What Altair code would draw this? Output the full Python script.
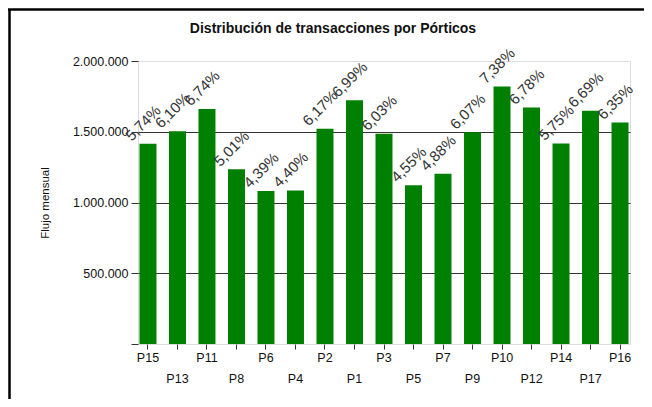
import altair as alt
import pandas as pd

porticos = ["P15", "P13", "P11", "P8", "P6", "P4", "P2", "P1", "P3",
            "P5", "P7", "P9", "P10", "P12", "P14", "P17", "P16"]
flujo = [1415000, 1504000, 1661000, 1235000, 1082000, 1085000, 1521000,
         1723000, 1486000, 1122000, 1203000, 1496000, 1819000, 1671000,
         1417000, 1649000, 1565000]
porcentaje = [0.0574, 0.0610, 0.0674, 0.0501, 0.0439, 0.0440, 0.0617,
              0.0699, 0.0603, 0.0455, 0.0488, 0.0607, 0.0738, 0.0678,
              0.0575, 0.0669, 0.0635]
y_ticks = [0, 500000, 1000000, 1500000, 2000000]
titulo = "Distribución de transacciones por Pórticos"
eje_y = "Flujo mensual"

df = pd.DataFrame({"portico": porticos, "flujo": flujo, "pct": porcentaje})

FONT = "Liberation Sans"
W, H = 492, 283
PAD_L, PAD_T, PAD_R, PAD_B = 130, 53, 14, 55

odd = [p for i, p in enumerate(porticos) if i % 2 == 1]
odd_list = "[" + ",".join("'" + p + "'" for p in odd) + "]"
label_expr = f"indexof({odd_list}, datum.value) >= 0 ? ['', datum.value] : datum.value"

x_enc = alt.X(
    "portico:N",
    sort=porticos,
    scale=alt.Scale(paddingInner=0.424, paddingOuter=0.05),
    axis=alt.Axis(
        title=None, labelAngle=0, domain=False, tickSize=5, tickColor="#333333",
        labelPadding=2, labelFontSize=12.5, labelFont=FONT, labelColor="#111111",
        labelLineHeight=21, labelExpr=label_expr,
    ),
)

y_enc = alt.Y(
    "flujo:Q",
    scale=alt.Scale(domain=[0, 2000000], nice=False),
    axis=alt.Axis(
        title=eje_y, values=y_ticks, format=",d", domain=False,
        labelExpr="datum.value == 0 ? '' : datum.label",
        tickSize=7, tickColor="#333333", labelPadding=3,
        labelFontSize=12.5, labelFont=FONT, labelColor="#111111",
        grid=True, gridColor="#333333", gridWidth=1,
        gridOpacity=alt.condition("datum.value == 0 || datum.value == 2000000",
                                  alt.value(0), alt.value(1)),
        titleFont=FONT, titleFontSize=11.5, titleFontWeight="normal",
        titleColor="#111111", titleX=-93, titleY=H / 2, titleAngle=270,
        titleAlign="center", titleBaseline="middle",
    ),
)

bars = alt.Chart(df).mark_bar(color="#008000").encode(x=x_enc, y=y_enc)

labels = alt.Chart(df).mark_text(
    angle=315, align="left", baseline="alphabetic", dx=-10, dy=-13,
    fontSize=15, font=FONT, color="#333333",
).encode(
    x=alt.X("portico:N", sort=porticos),
    y=alt.Y("flujo:Q"),
    text=alt.Text("pct:Q", format=".2%"),
)

title_df = pd.DataFrame({"t": [titulo]})
title_mark = alt.Chart(title_df).mark_text(
    align="center", baseline="alphabetic", fontSize=14, fontWeight="bold",
    font=FONT, color="#111111",
).encode(x=alt.value(195), y=alt.value(-28.5), text="t:N")

frame_df = pd.DataFrame({"a": [0]})
frame_left = alt.Chart(frame_df).mark_rule(color="#000000", strokeWidth=2.5).encode(
    x=alt.value(-128.5), y=alt.value(-52), y2=alt.value(H + PAD_B)
)
frame_top = alt.Chart(frame_df).mark_rule(color="#000000", strokeWidth=2.5).encode(
    x=alt.value(-130), x2=alt.value(W + PAD_R), y=alt.value(-51.5)
)

chart = alt.layer(bars, labels, title_mark, frame_left, frame_top).properties(
    width=W, height=H,
    autosize=alt.AutoSizeParams(type="none"),
    padding={"left": PAD_L, "top": PAD_T, "right": PAD_R, "bottom": PAD_B},
).configure_view(stroke=None).configure(
    locale=alt.Locale(number=alt.NumberLocale(
        decimal=",", thousands=".", grouping=[3], currency=["", " €"]))
)

chart.save("out.html", embed_options={"renderer": "svg", "actions": False})
